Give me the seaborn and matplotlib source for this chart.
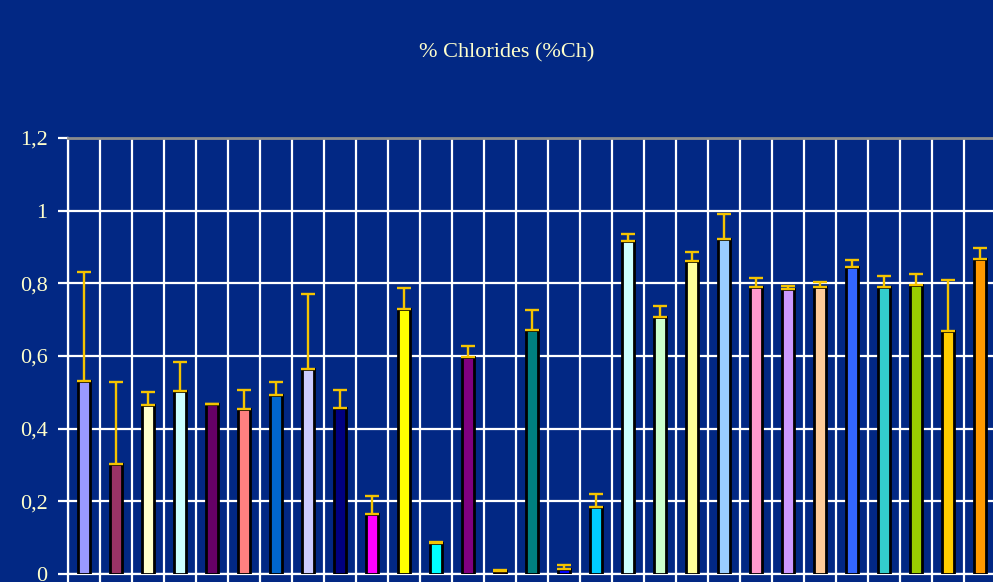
import numpy as np
import pandas as pd
import matplotlib
matplotlib.use("Agg")
import matplotlib.pyplot as plt
import seaborn as sns

# Data
samples = [str(i) for i in range(1, 30)]
chlorides = [0.531, 0.302, 0.465, 0.505, 0.467, 0.455, 0.494, 0.565, 0.456, 0.164,
             0.730, 0.086, 0.598, 0.008, 0.672, 0.015, 0.185, 0.917, 0.708, 0.862,
             0.923, 0.791, 0.784, 0.791, 0.846, 0.791, 0.796, 0.670, 0.868]
err_up = [0.299, 0.226, 0.035, 0.078, 0.002, 0.051, 0.034, 0.206, 0.050, 0.051,
          0.057, 0.002, 0.030, 0.002, 0.055, 0.009, 0.035, 0.018, 0.030, 0.023,
          0.067, 0.024, 0.009, 0.013, 0.018, 0.029, 0.030, 0.139, 0.029]
bar_colors = ["#9999FF", "#993366", "#FFFFCC", "#CCFFFF", "#660066", "#FF8080",
              "#0066CC", "#CCCCFF", "#000080", "#FF00FF", "#FFFF00", "#00FFFF",
              "#800080", "#C00000", "#008080", "#0000FF", "#00CCFF", "#CCFFFF",
              "#CCFFCC", "#FFFF99", "#99CCFF", "#FF99CC", "#CC99FF", "#FFCC99",
              "#3366FF", "#33CCCC", "#99CC00", "#FFCC00", "#FF9900"]
y_ticks = [0, 0.2, 0.4, 0.6, 0.8, 1.0, 1.2]
y_labels = ["0", "0,2", "0,4", "0,6", "0,8", "1", "1,2"]

bg = "#022884"
txt = "#FFFFCC"
serif = ["Liberation Serif", "DejaVu Serif"]

df = pd.DataFrame({"sample": samples, "chlorides": chlorides})

sns.set_style("white")
plt.rcParams["font.family"] = serif

fig = plt.figure(figsize=(9.93, 5.82), dpi=100, facecolor=bg)
ax = fig.add_axes([68.3 / 993, 8 / 582, 29 * 32 / 993, 436 / 582])
ax.set_facecolor(bg)

sns.barplot(data=df, x="sample", y="chlorides", hue="sample",
            palette=bar_colors, saturation=1, legend=False, width=0.37,
            edgecolor="black", linewidth=2, ax=ax, zorder=3)

# upper-only error bars
x = np.arange(len(samples))
ax.errorbar(x, chlorides, yerr=[np.zeros(len(err_up)), err_up], fmt="none",
            ecolor="#F5C400", elinewidth=1.7, capsize=4.8, capthick=1.7, zorder=4)

ax.set_xlim(-0.5, len(samples) - 0.5)
ax.set_ylim(0, 1.2)
ax.set_yticks(y_ticks)
ax.set_yticklabels(y_labels, fontfamily=serif)
ax.set_xticks(np.arange(len(samples) + 1) - 0.5)
ax.set_xticklabels([])
ax.set_xlabel("")
ax.set_ylabel("")

ax.grid(True, color="white", linewidth=1.6, zorder=0)
ax.set_axisbelow(True)
for side in ["left", "bottom"]:
    ax.spines[side].set_color("white")
    ax.spines[side].set_linewidth(1.6)
ax.spines["top"].set_color("#8C8C8C")
ax.spines["top"].set_linewidth(2)
ax.spines["right"].set_visible(False)

ax.tick_params(axis="y", colors="white", labelcolor=txt, labelsize=16,
               length=7, width=1.6, direction="out", pad=8, left=True)
ax.tick_params(axis="x", colors="white", length=10, width=1.6,
               direction="out", bottom=True)

fig.text(507 / 993, 1 - 53 / 582, "% Chlorides (%Ch)", color=txt,
         fontsize=16, fontfamily=serif, ha="center", va="center")

fig.savefig("out.png", dpi=100, facecolor=bg)
